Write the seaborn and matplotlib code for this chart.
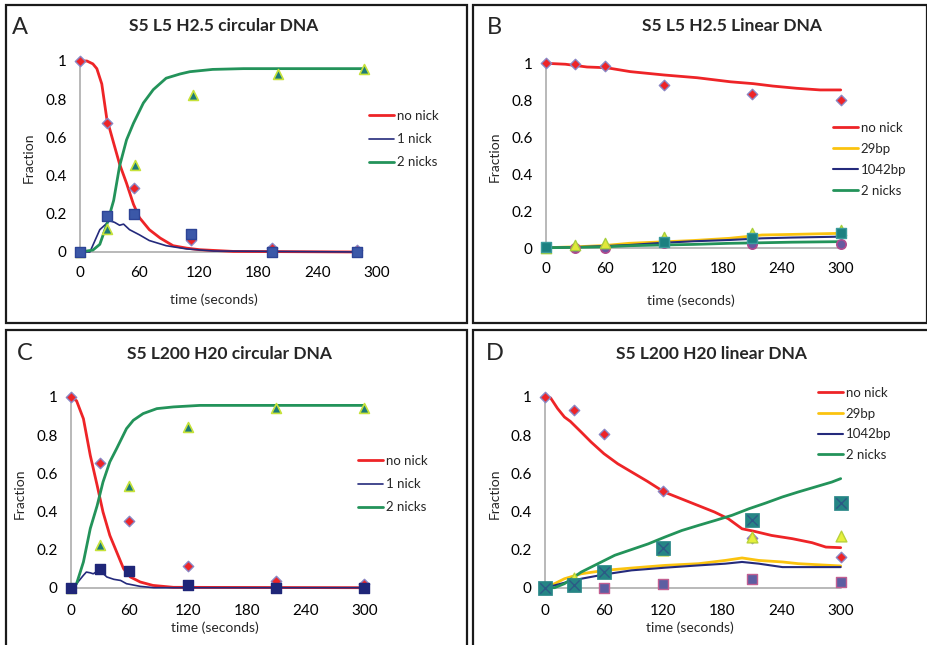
import matplotlib
matplotlib.use("Agg")
import matplotlib.pyplot as plt
import matplotlib.patches as mpatches
import seaborn as sns
import numpy as np

sns.set_theme(style="white")
plt.rcParams['font.family'] = ['Lato', 'DejaVu Sans']

# ---------------- data ----------------
# Panel A: S5 L5 H2.5 circular DNA
A_t_no = [0, 7, 13, 17, 22, 27, 34, 40, 47, 54, 60, 70, 81, 94, 108, 121, 155, 284]
A_no = [1.0, 1.0, 0.985, 0.96, 0.88, 0.70, 0.57, 0.46, 0.36, 0.25, 0.18, 0.117, 0.073, 0.033, 0.02, 0.012, 0.003, 0.0]
A_t_one = [0, 10, 20, 30, 35, 40, 44, 50, 60, 70, 87, 108, 135, 284]
A_one = [0, 0, 0.117, 0.164, 0.155, 0.14, 0.146, 0.117, 0.09, 0.06, 0.033, 0.016, 0.005, 0.0]
A_t_two = [0, 13, 20, 27, 34, 40, 47, 54, 64, 74, 87, 101, 111, 134, 165, 287]
A_two = [0, 0.01, 0.04, 0.143, 0.27, 0.45, 0.587, 0.674, 0.78, 0.85, 0.91, 0.932, 0.944, 0.956, 0.96, 0.96]
A_t_pts = [0, 27, 55, 112, 194, 280]
A_no_pts = [1.0, 0.678, 0.333, 0.061, 0.021, 0.009]
A_one_pts = [0, 0.19, 0.199, 0.094, 0, 0]
A_t_tri = [0, 27, 56, 114, 200, 287]
A_two_pts = [0, 0.12, 0.453, 0.822, 0.932, 0.956]

# Panel B: S5 L5 H2.5 Linear DNA
B_t_no = [0, 20, 42, 62, 86, 120, 154, 188, 211, 231, 255, 279, 300]
B_no = [1.0, 0.995, 0.98, 0.976, 0.955, 0.937, 0.922, 0.9, 0.89, 0.877, 0.865, 0.856, 0.856]
B_t_s = [0, 30, 60, 85, 120, 150, 187, 220, 250, 300]
B_29 = [0.003, 0.008, 0.015, 0.027, 0.035, 0.042, 0.054, 0.072, 0.075, 0.081]
B_1042 = [0.003, 0.006, 0.012, 0.018, 0.03, 0.038, 0.045, 0.054, 0.058, 0.063]
B_two = [0.003, 0.005, 0.008, 0.014, 0.018, 0.021, 0.027, 0.03, 0.033, 0.036]
B_t_pts = [0, 30, 60, 120, 210, 300]
B_no_pts = [1.0, 0.995, 0.986, 0.881, 0.836, 0.802]
B_29_pts = [0.0, 0.018, 0.027, 0.063, 0.083, 0.099]
B_sq_pts = [0.005, np.nan, np.nan, 0.032, 0.054, 0.084]
B_circ_pts = [0.005, 0.0, 0.0, 0.03, 0.022, 0.022]

# Panel C: S5 L200 H20 circular DNA
C_t_no = [0, 6, 13, 20, 27, 33, 40, 47, 54, 61, 71, 84, 105, 300]
C_no = [1.0, 0.98, 0.886, 0.694, 0.537, 0.397, 0.274, 0.187, 0.1, 0.056, 0.03, 0.012, 0.002, 0.0]
C_t_two = [0, 6, 13, 20, 27, 33, 40, 47, 57, 64, 74, 88, 105, 132, 300]
C_two = [0, 0.021, 0.135, 0.31, 0.43, 0.554, 0.66, 0.73, 0.834, 0.878, 0.913, 0.939, 0.948, 0.956, 0.956]
C_t_one = [0, 6, 13, 16, 20, 23, 27, 30, 33, 37, 44, 51, 57, 71, 85, 300]
C_one = [0, 0.021, 0.065, 0.082, 0.078, 0.073, 0.085, 0.096, 0.075, 0.056, 0.044, 0.038, 0.021, 0.007, 0.0, 0.0]
C_t_pts = [0, 30, 60, 120, 210, 300]
C_no_pts = [1.0, 0.656, 0.348, 0.114, 0.033, 0.021]
C_two_pts = [0, 0.222, 0.531, 0.843, 0.942, 0.942]
C_one_pts = [0, 0.096, 0.087, 0.016, 0, 0]

# Panel D: S5 L200 H20 linear DNA
D_t_no = [0, 6, 13, 20, 26, 37, 47, 60, 74, 88, 104, 121, 138, 155, 172, 186, 200, 213, 230, 251, 271, 285, 300]
D_no = [1.0, 0.995, 0.94, 0.895, 0.872, 0.816, 0.764, 0.703, 0.65, 0.607, 0.558, 0.502, 0.467, 0.432,
        0.397, 0.362, 0.309, 0.295, 0.274, 0.257, 0.236, 0.213, 0.21]
D_t_two = [0, 10, 20, 37, 54, 71, 88, 105, 122, 139, 156, 173, 190, 207, 224, 241, 257, 274, 291, 300]
D_two = [0, 0, 0.021, 0.082, 0.126, 0.17, 0.2, 0.23, 0.266, 0.3, 0.327, 0.353, 0.38, 0.414, 0.444,
         0.476, 0.502, 0.528, 0.554, 0.572]
D_t_s = [0, 10, 20, 37, 61, 88, 122, 156, 183, 200, 217, 241, 257, 300]
D_29 = [0, 0.021, 0.047, 0.073, 0.091, 0.103, 0.117, 0.126, 0.143, 0.156, 0.143, 0.135, 0.126, 0.114]
D_1042 = [0, 0.012, 0.026, 0.047, 0.07, 0.091, 0.105, 0.117, 0.126, 0.135, 0.126, 0.108, 0.108, 0.108]
D_t_pts = [0, 30, 60, 120, 210, 300]
D_no_pts = [1.0, 0.934, 0.804, 0.507, 0.26, 0.163]
D_29_pts = [0.0, 0.05, 0.08, 0.2, 0.265, 0.27]
D_two_pts = [0.0, 0.012, 0.082, 0.208, 0.353, 0.446]
D_1042_pts = [0.0, 0.01, 0.0, 0.017, 0.047, 0.03]

x_ticks = [0, 60, 120, 180, 240, 300]
y_ticks = [0, 0.2, 0.4, 0.6, 0.8, 1]
y_tick_labels = ['0', '0.2', '0.4', '0.6', '0.8', '1']

RED = '#ee2427'
NAVY = '#242a7c'
GREEN = '#23935a'
YELLOW = '#fbc30f'

W, H = 928, 645
fig = plt.figure(figsize=(W / 100, H / 100), dpi=100)


def fx(px):
    return px / W


def fy(py):
    return 1 - py / H


def make_ax(x0, x1, y0, y1):
    ax = fig.add_axes([fx(x0), fy(y0), (x1 - x0) / W, (y0 - y1) / H])
    ax.set_xlim(0, 300)
    ax.set_ylim(0, 1)
    for s in ax.spines.values():
        s.set_visible(False)
    ax.set_facecolor('none')
    return ax


def style_ax(ax, xend, xpad, xlab_xy, ylab_xy):
    ax.set_xticks(x_ticks)
    ax.set_xticklabels([str(v) for v in x_ticks])
    ax.set_yticks(y_ticks)
    ax.set_yticklabels(y_tick_labels)
    ax.tick_params(axis='y', length=0, pad=9.5, labelsize=11, colors='black')
    ax.tick_params(axis='x', length=0, pad=xpad, labelsize=11, colors='black')
    ax.plot([0, xend], [0, 0], color='#b3b3b3', lw=1.3, zorder=1, clip_on=False)
    ax.plot([0, 0], [0, 1], color='#b3b3b3', lw=1.3, zorder=1, clip_on=False)
    ax.grid(False)
    fig.text(fx(xlab_xy[0]), fy(xlab_xy[1]), 'time (seconds)', ha='center', va='center', fontsize=10)
    fig.text(fx(ylab_xy[0]), fy(ylab_xy[1]), 'Fraction', ha='center', va='center', fontsize=10, rotation=90)


def line(ax, t, v, color, lw, label):
    sns.lineplot(x=t, y=v, ax=ax, color=color, linewidth=lw, estimator=None, sort=False,
                 label=label, zorder=3, clip_on=False)


def pts(ax, t, v, marker, s, fc, ec, lw=1.0, z=5):
    sns.scatterplot(x=t, y=v, ax=ax, marker=marker, s=s, color=fc, edgecolor=ec, linewidth=lw,
                    zorder=z, clip_on=False, legend=False)


def legend(ax, x, y, spacing):
    leg = ax.legend(loc='upper left', bbox_to_anchor=(fx(x), fy(y)), bbox_transform=fig.transFigure,
                    frameon=False, fontsize=9.5, handlelength=1.9, handletextpad=0.2,
                    labelspacing=spacing, borderpad=0, borderaxespad=0)
    return leg


# frames
for (x0, y0, x1, y1) in [(6, 5, 467, 323), (473, 5, 927, 323), (6, 330, 467, 650), (473, 330, 932, 650)]:
    fig.patches.append(mpatches.Rectangle((fx(x0), fy(y1)), (x1 - x0) / W, (y1 - y0) / H,
                                          transform=fig.transFigure, fill=False, edgecolor='#1a1a1a',
                                          lw=1.6))

# ---- Panel A ----
axA = make_ax(80, 377, 252, 61)
line(axA, A_t_no, A_no, RED, 2.0, 'no nick')
line(axA, A_t_one, A_one, NAVY, 1.2, '1 nick')
line(axA, A_t_two, A_two, GREEN, 2.0, '2 nicks')
pts(axA, A_t_pts, A_no_pts, 'D', 28, RED, '#8a86c4')
pts(axA, A_t_tri, A_two_pts, '^', 50, '#1d7a78', '#c6e23a', 1.2)
pts(axA, A_t_pts, A_one_pts, 's', 55, '#3b58a8', '#2d4496')
style_ax(axA, 285, 10, (214, 300), (29, 158))
legend(axA, 369, 110, 0.85)
fig.text(fx(20), fy(27), 'A', ha='center', va='center', fontsize=17)
fig.text(fx(224), fy(26), 'S5 L5 H2.5 circular DNA', ha='center', va='center', fontsize=12.5, fontweight='bold')

# ---- Panel B ----
axB = make_ax(545.7, 840.7, 248.3, 63.3)
line(axB, B_t_no, B_no, RED, 2.0, 'no nick')
line(axB, B_t_s, B_29, YELLOW, 2.0, '29bp')
line(axB, B_t_s, B_1042, NAVY, 1.5, '1042bp')
line(axB, B_t_s, B_two, GREEN, 2.0, '2 nicks')
pts(axB, B_t_pts, B_no_pts, 'D', 28, RED, '#8a86c4')
pts(axB, B_t_pts, B_29_pts, '^', 55, '#e2e83a', '#a8cf3c', 1.0)
pts(axB, B_t_pts, B_circ_pts, 'o', 45, '#675aa0', '#b24a8e', 1.2, z=4)
pts(axB, B_t_pts, B_sq_pts, 's', 45, '#1b8080', '#3b9c9c', 1.0, z=6)
style_ax(axB, 300, 10, (691, 301), (495, 157))
legend(axB, 833, 122, 0.68)
fig.text(fx(494), fy(27), 'B', ha='center', va='center', fontsize=17)
fig.text(fx(732), fy(26), 'S5 L5 H2.5 Linear DNA', ha='center', va='center', fontsize=12.5, fontweight='bold')

# ---- Panel C ----
axC = make_ax(70.7, 364.3, 587.7, 397)
line(axC, C_t_no, C_no, RED, 2.0, 'no nick')
line(axC, C_t_one, C_one, NAVY, 1.2, '1 nick')
line(axC, C_t_two, C_two, GREEN, 2.0, '2 nicks')
pts(axC, C_t_pts, C_no_pts, 'D', 28, RED, '#8a86c4')
pts(axC, C_t_pts, C_two_pts, '^', 50, '#1d7a78', '#c6e23a', 1.2)
pts(axC, C_t_pts, C_one_pts, 's', 55, '#1f2678', '#1f2678')
style_ax(axC, 302, 12, (215, 628), (20, 494))
legend(axC, 358, 455, 0.85)
fig.text(fx(25), fy(354), 'C', ha='center', va='center', fontsize=17)
fig.text(fx(230), fy(354), 'S5 L200 H20 circular DNA', ha='center', va='center', fontsize=12.5, fontweight='bold')

# ---- Panel D ----
axD = make_ax(544.7, 840.7, 587.7, 397)
line(axD, D_t_no, D_no, RED, 2.0, 'no nick')
line(axD, D_t_s, D_29, YELLOW, 2.0, '29bp')
line(axD, D_t_s, D_1042, NAVY, 1.5, '1042bp')
line(axD, D_t_two, D_two, GREEN, 2.0, '2 nicks')
pts(axD, D_t_pts, D_no_pts, 'D', 28, RED, '#8a86c4')
pts(axD, D_t_pts, D_29_pts, '^', 60, '#e6f03c', '#b9d23a', 1.0)
pts(axD, D_t_pts, D_1042_pts, 's', 45, '#5d5ea2', '#c25f92', 1.0, z=4)
pts(axD, D_t_pts, D_two_pts, 's', 90, '#258585', '#258585', 0.5, z=6)
pts(axD, D_t_pts, D_two_pts, 'x', 55, '#2c5a86', '#2c5a86', 1.0, z=7)
style_ax(axD, 300, 12, (690, 628), (495, 494))
legend(axD, 818, 387, 0.65)
fig.text(fx(495), fy(354), 'D', ha='center', va='center', fontsize=17)
fig.text(fx(712), fy(354), 'S5 L200 H20 linear DNA', ha='center', va='center', fontsize=12.5, fontweight='bold')

fig.savefig('out.png', dpi=100)
